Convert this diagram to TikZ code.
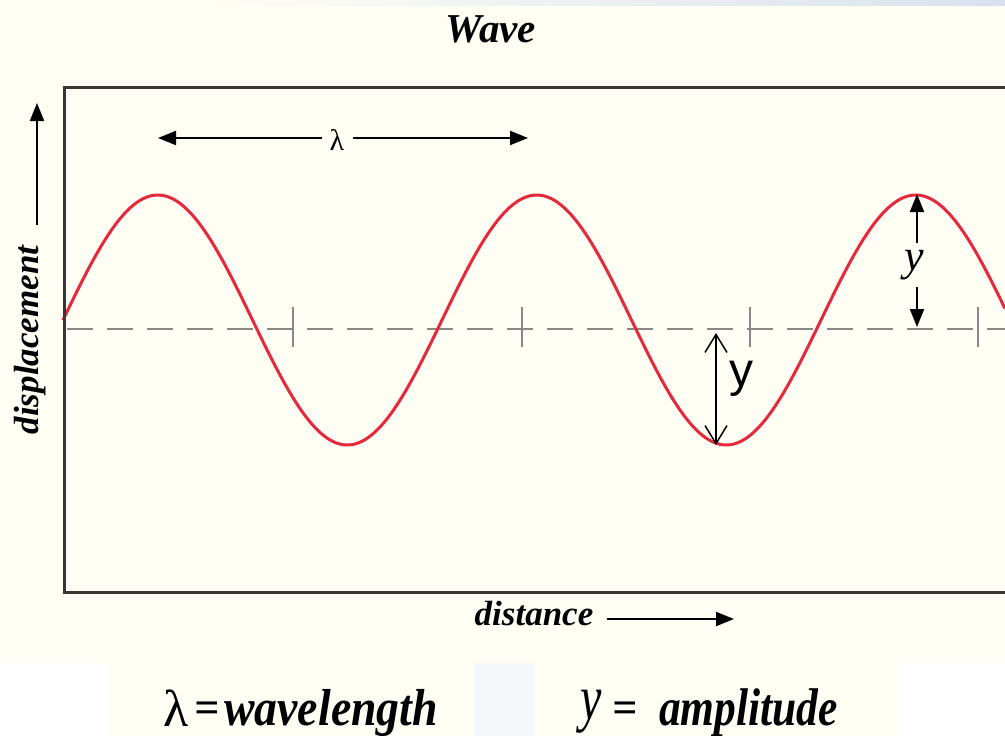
\documentclass[tikz,border=0pt]{standalone}
\usepackage{fontspec}
\usepackage{graphicx}
\setmainfont{Liberation Serif}
\newfontfamily\arialfont{Liberation Sans}
\usetikzlibrary{arrows.meta}
\definecolor{cream}{RGB}{255,254,244}
\definecolor{wavered}{RGB}{230,40,60}
\definecolor{framegray}{RGB}{55,55,55}
\definecolor{dashgray}{RGB}{135,135,135}
\definecolor{patchgray}{RGB}{246,247,250}
\definecolor{topblue}{RGB}{215,225,238}
\tikzset{
  lbl/.style={font=\fontsize{#1}{#1}\selectfont\bfseries\itshape, inner sep=0pt},
  plain/.style={font=\fontsize{#1}{#1}\selectfont, inner sep=0pt},
  fillarrow/.style={line width=2pt, draw=black, -{Triangle[length=18pt,width=14pt]}},
  openarrow/.style={line width=1.5pt, draw=black, {Straight Barb[length=18pt,width=22pt]}-{Straight Barb[length=18pt,width=22pt]}},
  wavestyle/.style={draw=wavered, line width=3pt},
  framestyle/.style={draw=framegray, line width=3pt},
  baseline/.style={draw=dashgray, line width=2pt, dash pattern=on 26pt off 14pt},
  tickstyle/.style={draw=dashgray, line width=2pt},
}
\begin{document}
\begin{tikzpicture}[x=1pt, y=-1pt]
\useasboundingbox (0,0) rectangle (1005,736);
% background
\fill[white] (0,0) rectangle (1005,736);
\fill[cream] (0,0) rectangle (1005,663);
\fill[cream] (108,663) rectangle (474,736);
\fill[cream] (535,663) rectangle (897,736);
\fill[patchgray] (474,663) rectangle (535,736);
\shade[left color=cream, right color=topblue] (200,0) rectangle (1005,5);

% title
\node[lbl=41, anchor=base] (title) at (491,42) {Wave};

% baseline and ticks
\coordinate (bl0) at (67,329);
\coordinate (bl1) at (1005,329);
\draw[baseline] (bl0) -- (bl1);
\foreach \t/\xx in {t1/293, t2/522, t3/750, t4/978}{
  \coordinate (\t a) at (\xx,307);
  \coordinate (\t b) at (\xx,347);
  \draw[tickstyle] (\t a) -- (\t b);
}

% wave
\draw[wavestyle] plot[domain=63:1005, samples=300] (\x, {320-125*sin(((\x-63)/379)*360)});

% frame
\coordinate (fTR) at (1012,87);
\coordinate (fTL) at (64,87);
\coordinate (fBL) at (64,592);
\coordinate (fBR) at (1012,592);
\draw[framestyle] (fTR) -- (fTL) -- (fBL) -- (fBR);

% displacement axis label
\node[lbl=35, rotate=90, anchor=base] (disp) at (38,340) {displacement};
\coordinate (dispTail) at (37,225);
\coordinate (dispTip) at (37,103);
\draw[fillarrow] (dispTail) -- (dispTip);

% wavelength arrow
\node[plain=30] (lam) at (337,140) {λ};
\coordinate (lamGL) at (322,138);
\coordinate (lamGR) at (353,138);
\coordinate (lamL) at (158,138);
\coordinate (lamR) at (528,138);
\draw[fillarrow] (lamGL) -- (lamL);
\draw[fillarrow] (lamGR) -- (lamR);

% amplitude arrow on right crest
\node[font=\fontsize{44}{44}\selectfont\itshape, inner sep=0pt] (yR) at (914,265) {y};
\coordinate (yRa) at (917,243);
\coordinate (yRtop) at (917,194);
\coordinate (yRb) at (917,287);
\coordinate (yRbot) at (917,327);
\draw[fillarrow] (yRa) -- (yRtop);
\draw[fillarrow] (yRb) -- (yRbot);

% added amplitude arrow at trough
\coordinate (yLtop) at (716,333);
\coordinate (yLbot) at (716,445);
\draw[openarrow] (yLtop) -- (yLbot);
\node[font=\arialfont\fontsize{48}{48}\selectfont, anchor=base west, inner sep=0pt] (yL) at (729,386) {y};

% distance label
\node[lbl=35, anchor=base] (dist) at (534,625) {distance};
\coordinate (distA) at (607,619);
\coordinate (distB) at (734,619);
\draw[fillarrow] (distA) -- (distB);

% legend
\node[plain=52, anchor=base] (lamleg) at (176,726) {λ};
\node[lbl=44, anchor=base] (eq1) at (207,722) {=};
\node[lbl=52, anchor=base east] (wl) at (438,725) {\scalebox{0.88}[1]{wavelength}};
\node[font=\fontsize{64}{64}\selectfont\itshape, inner sep=0pt, anchor=base] (yleg) at (591,719) {\scalebox{0.75}[1]{y}};
\node[lbl=44, anchor=base] (eq2) at (625,722) {=};
\node[lbl=53, anchor=base east] (amp) at (838,725) {\scalebox{0.82}[1]{amplitude}};
\end{tikzpicture}
\end{document}
